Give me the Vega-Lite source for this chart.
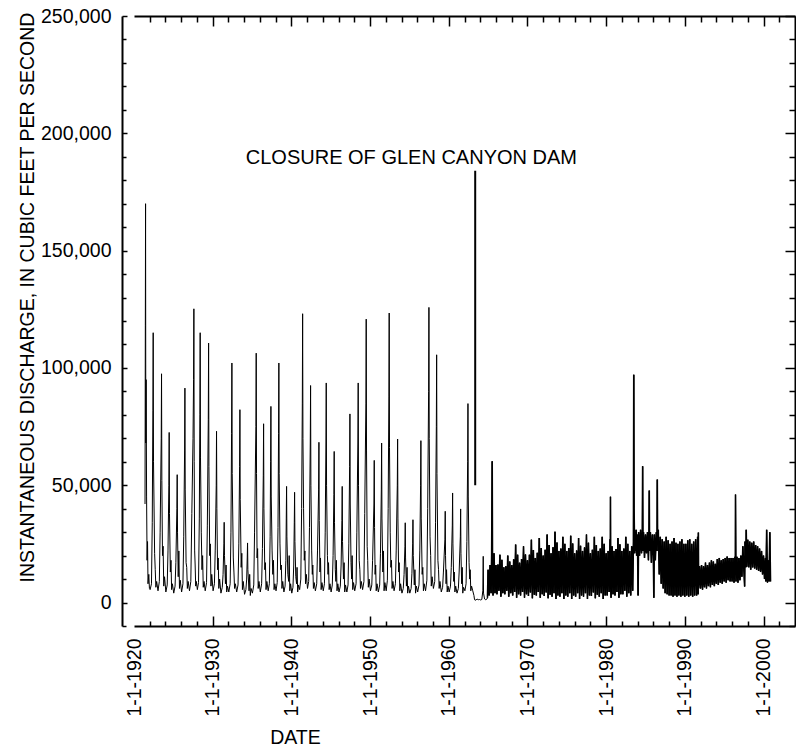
{
"$schema": "https://vega.github.io/schema/vega-lite/v6.json",
"width": 661, "height": 610,
"autosize": {"type": "none"},
"padding": {"left": 134, "top": 16, "right": 1, "bottom": 123},
"background": "white",
"config": {"view": {"stroke": null}, "font": "Liberation Sans",
 "axis": {"labelFont": "Liberation Sans", "titleFont": "Liberation Sans", "labelColor": "black", "titleColor": "black", "domainColor": "black", "tickColor": "black", "grid": false, "domainWidth": 2, "tickWidth": 1.5, "labelFontSize": 19.5, "titleFontSize": 19.5, "titleFontWeight": "normal", "labelBound": false, "labelOverlap": false, "labelFlush": false, "zindex": 1}},
"datasets": {
"note": [{"t": 1955.25, "q": 187000, "label": "CLOSURE OF GLEN CANYON DAM"}],
"lead": [{"t": 1963.36, "q": 50000, "q2": 184000}],
"flow": [
{"t":1921.40,"q":42000},{"t":1921.44,"q":118000},{"t":1921.47,"q":170000},{"t":1921.50,"q":68000},{"t":1921.54,"q":95000},{"t":1921.60,"q":45000},{"t":1921.66,"q":18000},{"t":1921.72,"q":26000},{"t":1921.78,"q":8000},{"t":1921.88,"q":12000},{"t":1921.96,"q":6000},
{"t":1922.05,"q":5500},{"t":1922.22,"q":8000},{"t":1922.32,"q":34000},{"t":1922.40,"q":82000},{"t":1922.44,"q":115000},{"t":1922.48,"q":60000},{"t":1922.62,"q":21000},{"t":1922.70,"q":14000},{"t":1922.78,"q":6500},{"t":1922.88,"q":9000},
{"t":1923.05,"q":5000},{"t":1923.22,"q":9000},{"t":1923.32,"q":30000},{"t":1923.46,"q":70000},{"t":1923.50,"q":97500},{"t":1923.54,"q":52000},{"t":1923.62,"q":20000},{"t":1923.70,"q":24000},{"t":1923.78,"q":7000},{"t":1923.88,"q":11000},
{"t":1924.05,"q":4500},{"t":1924.22,"q":7500},{"t":1924.32,"q":22000},{"t":1924.43,"q":50000},{"t":1924.47,"q":72500},{"t":1924.51,"q":38000},{"t":1924.62,"q":13000},{"t":1924.70,"q":18000},{"t":1924.78,"q":5500},{"t":1924.88,"q":8000},
{"t":1925.05,"q":4000},{"t":1925.22,"q":7000},{"t":1925.32,"q":17000},{"t":1925.45,"q":40000},{"t":1925.49,"q":54500},{"t":1925.53,"q":30000},{"t":1925.62,"q":11000},{"t":1925.70,"q":22000},{"t":1925.78,"q":6000},{"t":1925.88,"q":9500},
{"t":1926.05,"q":4500},{"t":1926.22,"q":8000},{"t":1926.32,"q":28000},{"t":1926.43,"q":65000},{"t":1926.47,"q":91400},{"t":1926.51,"q":48000},{"t":1926.62,"q":17000},{"t":1926.70,"q":15000},{"t":1926.78,"q":6000},{"t":1926.88,"q":9000},
{"t":1927.05,"q":5000},{"t":1927.22,"q":9000},{"t":1927.35,"q":38000},{"t":1927.50,"q":70000},{"t":1927.57,"q":95000},{"t":1927.61,"q":125200},{"t":1927.65,"q":60000},{"t":1927.71,"q":22000},{"t":1927.77,"q":16000},{"t":1927.84,"q":7000},{"t":1927.92,"q":9000},
{"t":1928.05,"q":5500},{"t":1928.20,"q":8500},{"t":1928.30,"q":36000},{"t":1928.37,"q":80000},{"t":1928.41,"q":115000},{"t":1928.45,"q":62000},{"t":1928.55,"q":30000},{"t":1928.64,"q":14000},{"t":1928.72,"q":20000},{"t":1928.80,"q":6500},{"t":1928.90,"q":9000},
{"t":1929.05,"q":5000},{"t":1929.22,"q":8500},{"t":1929.32,"q":33000},{"t":1929.44,"q":78000},{"t":1929.48,"q":110600},{"t":1929.52,"q":58000},{"t":1929.62,"q":20000},{"t":1929.70,"q":25000},{"t":1929.78,"q":7000},{"t":1929.88,"q":12000},
{"t":1930.05,"q":5000},{"t":1930.22,"q":8000},{"t":1930.32,"q":22000},{"t":1930.45,"q":50000},{"t":1930.49,"q":73000},{"t":1930.53,"q":40000},{"t":1930.62,"q":14000},{"t":1930.70,"q":19000},{"t":1930.78,"q":6000},{"t":1930.88,"q":10000},
{"t":1931.05,"q":4000},{"t":1931.22,"q":6500},{"t":1931.32,"q":12000},{"t":1931.42,"q":25000},{"t":1931.46,"q":34200},{"t":1931.50,"q":20000},{"t":1931.62,"q":8000},{"t":1931.70,"q":16000},{"t":1931.78,"q":4500},{"t":1931.88,"q":7000},
{"t":1932.05,"q":4500},{"t":1932.22,"q":8000},{"t":1932.32,"q":30000},{"t":1932.40,"q":72000},{"t":1932.44,"q":102100},{"t":1932.48,"q":55000},{"t":1932.62,"q":19000},{"t":1932.70,"q":13000},{"t":1932.78,"q":6000},{"t":1932.88,"q":8000},
{"t":1933.05,"q":4500},{"t":1933.22,"q":7500},{"t":1933.32,"q":25000},{"t":1933.42,"q":58000},{"t":1933.46,"q":82200},{"t":1933.50,"q":44000},{"t":1933.62,"q":15000},{"t":1933.70,"q":21000},{"t":1933.78,"q":5500},{"t":1933.88,"q":9000},
{"t":1934.05,"q":3500},{"t":1934.22,"q":5500},{"t":1934.32,"q":10000},{"t":1934.39,"q":19000},{"t":1934.43,"q":25400},{"t":1934.47,"q":14000},{"t":1934.62,"q":5000},{"t":1934.70,"q":12000},{"t":1934.78,"q":3000},{"t":1934.88,"q":6000},
{"t":1935.05,"q":4000},{"t":1935.22,"q":7500},{"t":1935.32,"q":30000},{"t":1935.49,"q":75000},{"t":1935.53,"q":106300},{"t":1935.57,"q":55000},{"t":1935.64,"q":19000},{"t":1935.71,"q":23000},{"t":1935.78,"q":6000},{"t":1935.88,"q":9000},
{"t":1936.05,"q":4500},{"t":1936.22,"q":8000},{"t":1936.32,"q":23000},{"t":1936.43,"q":54000},{"t":1936.47,"q":76200},{"t":1936.51,"q":40000},{"t":1936.62,"q":14000},{"t":1936.70,"q":17000},{"t":1936.78,"q":5500},{"t":1936.88,"q":9000},
{"t":1937.05,"q":5000},{"t":1937.20,"q":8000},{"t":1937.30,"q":28000},{"t":1937.36,"q":60000},{"t":1937.40,"q":83600},{"t":1937.44,"q":45000},{"t":1937.55,"q":22000},{"t":1937.64,"q":12000},{"t":1937.72,"q":18000},{"t":1937.80,"q":5500},{"t":1937.90,"q":8000},
{"t":1938.05,"q":5000},{"t":1938.20,"q":8500},{"t":1938.30,"q":32000},{"t":1938.37,"q":72000},{"t":1938.41,"q":102100},{"t":1938.45,"q":55000},{"t":1938.55,"q":25000},{"t":1938.64,"q":14000},{"t":1938.72,"q":16000},{"t":1938.80,"q":6000},{"t":1938.90,"q":9000},
{"t":1939.05,"q":4500},{"t":1939.20,"q":7000},{"t":1939.30,"q":18000},{"t":1939.35,"q":36000},{"t":1939.39,"q":49500},{"t":1939.43,"q":28000},{"t":1939.55,"q":12000},{"t":1939.66,"q":9000},{"t":1939.72,"q":20000},{"t":1939.80,"q":5000},{"t":1939.90,"q":8000},
{"t":1940.05,"q":4000},{"t":1940.20,"q":6500},{"t":1940.30,"q":16000},{"t":1940.37,"q":34000},{"t":1940.41,"q":47000},{"t":1940.45,"q":26000},{"t":1940.56,"q":11000},{"t":1940.66,"q":8000},{"t":1940.72,"q":15000},{"t":1940.80,"q":4500},{"t":1940.90,"q":7500},
{"t":1941.05,"q":5500},{"t":1941.20,"q":10000},{"t":1941.30,"q":40000},{"t":1941.39,"q":85000},{"t":1941.43,"q":123100},{"t":1941.47,"q":70000},{"t":1941.55,"q":40000},{"t":1941.64,"q":18000},{"t":1941.72,"q":22000},{"t":1941.80,"q":8000},{"t":1941.90,"q":12000},
{"t":1942.05,"q":6000},{"t":1942.20,"q":9000},{"t":1942.30,"q":32000},{"t":1942.40,"q":68000},{"t":1942.44,"q":92500},{"t":1942.48,"q":50000},{"t":1942.58,"q":22000},{"t":1942.66,"q":12000},{"t":1942.72,"q":16000},{"t":1942.80,"q":6000},{"t":1942.90,"q":8500},
{"t":1943.05,"q":5000},{"t":1943.22,"q":8000},{"t":1943.32,"q":22000},{"t":1943.46,"q":48000},{"t":1943.50,"q":68300},{"t":1943.54,"q":35000},{"t":1943.63,"q":13000},{"t":1943.70,"q":19000},{"t":1943.78,"q":5500},{"t":1943.88,"q":8500},
{"t":1944.05,"q":5000},{"t":1944.20,"q":8000},{"t":1944.30,"q":30000},{"t":1944.39,"q":68000},{"t":1944.43,"q":93600},{"t":1944.47,"q":50000},{"t":1944.58,"q":20000},{"t":1944.66,"q":12000},{"t":1944.72,"q":17000},{"t":1944.80,"q":5500},{"t":1944.90,"q":8000},
{"t":1945.05,"q":4500},{"t":1945.20,"q":7500},{"t":1945.30,"q":20000},{"t":1945.40,"q":46000},{"t":1945.44,"q":64400},{"t":1945.48,"q":34000},{"t":1945.58,"q":14000},{"t":1945.66,"q":9000},{"t":1945.72,"q":18000},{"t":1945.80,"q":5000},{"t":1945.90,"q":8000},
{"t":1946.05,"q":4500},{"t":1946.22,"q":7000},{"t":1946.32,"q":16000},{"t":1946.42,"q":35000},{"t":1946.46,"q":49500},{"t":1946.50,"q":26000},{"t":1946.62,"q":10000},{"t":1946.70,"q":17000},{"t":1946.78,"q":4500},{"t":1946.88,"q":7500},
{"t":1947.05,"q":4500},{"t":1947.20,"q":7500},{"t":1947.30,"q":25000},{"t":1947.40,"q":58000},{"t":1947.44,"q":80400},{"t":1947.48,"q":42000},{"t":1947.58,"q":17000},{"t":1947.66,"q":10000},{"t":1947.72,"q":20000},{"t":1947.80,"q":5500},{"t":1947.90,"q":8500},
{"t":1948.05,"q":5000},{"t":1948.22,"q":8000},{"t":1948.32,"q":30000},{"t":1948.45,"q":68000},{"t":1948.49,"q":93600},{"t":1948.53,"q":50000},{"t":1948.62,"q":18000},{"t":1948.70,"q":14000},{"t":1948.78,"q":6000},{"t":1948.88,"q":9000},
{"t":1949.05,"q":5500},{"t":1949.22,"q":9000},{"t":1949.32,"q":38000},{"t":1949.47,"q":85000},{"t":1949.51,"q":120800},{"t":1949.55,"q":65000},{"t":1949.63,"q":24000},{"t":1949.70,"q":18000},{"t":1949.78,"q":6500},{"t":1949.88,"q":10000},
{"t":1950.05,"q":5000},{"t":1950.22,"q":7500},{"t":1950.32,"q":18000},{"t":1950.49,"q":42000},{"t":1950.53,"q":60600},{"t":1950.57,"q":32000},{"t":1950.64,"q":12000},{"t":1950.71,"q":16000},{"t":1950.78,"q":5000},{"t":1950.88,"q":8000},
{"t":1951.05,"q":4500},{"t":1951.22,"q":7500},{"t":1951.32,"q":21000},{"t":1951.43,"q":48000},{"t":1951.47,"q":68000},{"t":1951.51,"q":36000},{"t":1951.62,"q":13000},{"t":1951.70,"q":22000},{"t":1951.78,"q":5000},{"t":1951.88,"q":8500},
{"t":1952.05,"q":5000},{"t":1952.20,"q":9500},{"t":1952.30,"q":40000},{"t":1952.39,"q":88000},{"t":1952.43,"q":123400},{"t":1952.47,"q":66000},{"t":1952.56,"q":30000},{"t":1952.64,"q":15000},{"t":1952.72,"q":18000},{"t":1952.80,"q":6000},{"t":1952.90,"q":9000},
{"t":1953.05,"q":5000},{"t":1953.22,"q":8000},{"t":1953.32,"q":22000},{"t":1953.46,"q":50000},{"t":1953.50,"q":69700},{"t":1953.54,"q":36000},{"t":1953.63,"q":13000},{"t":1953.70,"q":17000},{"t":1953.78,"q":5000},{"t":1953.88,"q":8000},
{"t":1954.05,"q":4000},{"t":1954.22,"q":6000},{"t":1954.32,"q":12000},{"t":1954.43,"q":24000},{"t":1954.47,"q":34000},{"t":1954.51,"q":19000},{"t":1954.62,"q":7000},{"t":1954.70,"q":15000},{"t":1954.78,"q":4000},{"t":1954.88,"q":7000},
{"t":1955.05,"q":4000},{"t":1955.22,"q":6000},{"t":1955.32,"q":12500},{"t":1955.41,"q":25000},{"t":1955.45,"q":35300},{"t":1955.49,"q":20000},{"t":1955.62,"q":7500},{"t":1955.70,"q":14000},{"t":1955.78,"q":4000},{"t":1955.88,"q":7000},
{"t":1956.05,"q":4500},{"t":1956.22,"q":7500},{"t":1956.32,"q":22000},{"t":1956.42,"q":50000},{"t":1956.46,"q":69000},{"t":1956.50,"q":36000},{"t":1956.62,"q":12000},{"t":1956.70,"q":15000},{"t":1956.78,"q":5000},{"t":1956.88,"q":8000},
{"t":1957.05,"q":5000},{"t":1957.22,"q":9500},{"t":1957.32,"q":40000},{"t":1957.44,"q":90000},{"t":1957.48,"q":125800},{"t":1957.52,"q":70000},{"t":1957.62,"q":28000},{"t":1957.70,"q":20000},{"t":1957.78,"q":7000},{"t":1957.88,"q":11000},
{"t":1958.05,"q":6000},{"t":1958.22,"q":9000},{"t":1958.32,"q":34000},{"t":1958.42,"q":75000},{"t":1958.46,"q":105600},{"t":1958.50,"q":55000},{"t":1958.62,"q":18000},{"t":1958.70,"q":14000},{"t":1958.78,"q":6000},{"t":1958.88,"q":9000},
{"t":1959.05,"q":4500},{"t":1959.22,"q":6500},{"t":1959.32,"q":13000},{"t":1959.51,"q":27000},{"t":1959.55,"q":38900},{"t":1959.59,"q":20000},{"t":1959.66,"q":8000},{"t":1959.72,"q":14000},{"t":1959.80,"q":4500},{"t":1959.90,"q":7000},
{"t":1960.05,"q":4500},{"t":1960.22,"q":7000},{"t":1960.32,"q":15000},{"t":1960.45,"q":33000},{"t":1960.49,"q":46700},{"t":1960.53,"q":25000},{"t":1960.63,"q":9000},{"t":1960.70,"q":13000},{"t":1960.78,"q":4500},{"t":1960.88,"q":7000},
{"t":1961.05,"q":4000},{"t":1961.22,"q":6000},{"t":1961.32,"q":13000},{"t":1961.47,"q":28000},{"t":1961.51,"q":39900},{"t":1961.55,"q":21000},{"t":1961.64,"q":8000},{"t":1961.71,"q":15000},{"t":1961.78,"q":4000},{"t":1961.88,"q":6500},
{"t":1962.05,"q":5000},{"t":1962.20,"q":8000},{"t":1962.30,"q":26000},{"t":1962.40,"q":60000},{"t":1962.44,"q":84800},{"t":1962.48,"q":45000},{"t":1962.58,"q":17000},{"t":1962.66,"q":10000},{"t":1962.72,"q":14000},{"t":1962.80,"q":5000},{"t":1962.90,"q":7000},
{"t":1963.05,"q":5000},{"t":1963.20,"q":3000},{"t":1963.28,"q":1200},{"t":1963.45,"q":1000},{"t":1963.60,"q":1500},{"t":1963.75,"q":1200},{"t":1963.90,"q":1300},{"t":1964.05,"q":1100},{"t":1964.20,"q":1300},{"t":1964.33,"q":5000},{"t":1964.38,"q":19700},{"t":1964.42,"q":4000},{"t":1964.55,"q":1500},{"t":1964.70,"q":1200},{"t":1964.85,"q":1500},{"t":1964.92,"q":2000},
{"t":1965.000,"q":14000},{"t":1965.125,"q":3000},{"t":1965.250,"q":16000},{"t":1965.375,"q":4000},{"t":1965.450,"q":20000},{"t":1965.520,"q":60200},{"t":1965.560,"q":15000},{"t":1965.625,"q":3000},{"t":1965.750,"q":21000},{"t":1965.875,"q":4000},
{"t":1966.000,"q":16000},{"t":1966.125,"q":3500},{"t":1966.250,"q":16200},{"t":1966.375,"q":5000},{"t":1966.500,"q":20400},{"t":1966.625,"q":2500},{"t":1966.750,"q":18200},{"t":1966.875,"q":4000},
{"t":1967.000,"q":15000},{"t":1967.125,"q":3500},{"t":1967.250,"q":15500},{"t":1967.375,"q":5000},{"t":1967.500,"q":20000},{"t":1967.625,"q":2500},{"t":1967.750,"q":17500},{"t":1967.875,"q":4000},
{"t":1968.000,"q":16000},{"t":1968.125,"q":3000},{"t":1968.250,"q":18400},{"t":1968.375,"q":4500},{"t":1968.500,"q":24700},{"t":1968.625,"q":2000},{"t":1968.750,"q":20400},{"t":1968.875,"q":3500},
{"t":1969.000,"q":17000},{"t":1969.125,"q":3000},{"t":1969.250,"q":18500},{"t":1969.375,"q":4500},{"t":1969.500,"q":24000},{"t":1969.625,"q":2000},{"t":1969.750,"q":20500},{"t":1969.875,"q":3500},
{"t":1970.000,"q":18000},{"t":1970.125,"q":2800},{"t":1970.250,"q":20400},{"t":1970.375,"q":4300},{"t":1970.500,"q":26800},{"t":1970.625,"q":1800},{"t":1970.750,"q":22400},{"t":1970.875,"q":3300},
{"t":1971.000,"q":19000},{"t":1971.125,"q":3000},{"t":1971.250,"q":21200},{"t":1971.375,"q":4500},{"t":1971.500,"q":27500},{"t":1971.625,"q":2000},{"t":1971.750,"q":23200},{"t":1971.875,"q":3500},
{"t":1972.000,"q":20000},{"t":1972.125,"q":2800},{"t":1972.250,"q":22500},{"t":1972.375,"q":4300},{"t":1972.500,"q":29000},{"t":1972.625,"q":1800},{"t":1972.750,"q":24500},{"t":1972.875,"q":3300},
{"t":1973.000,"q":21000},{"t":1973.125,"q":2500},{"t":1973.250,"q":23600},{"t":1973.375,"q":4000},{"t":1973.500,"q":30200},{"t":1973.625,"q":1500},{"t":1973.750,"q":25600},{"t":1973.875,"q":3000},
{"t":1974.000,"q":22000},{"t":1974.125,"q":2500},{"t":1974.250,"q":23000},{"t":1974.375,"q":4000},{"t":1974.500,"q":28000},{"t":1974.625,"q":1500},{"t":1974.750,"q":25000},{"t":1974.875,"q":3000},
{"t":1975.000,"q":22000},{"t":1975.125,"q":2500},{"t":1975.250,"q":23200},{"t":1975.375,"q":4000},{"t":1975.500,"q":28500},{"t":1975.625,"q":1500},{"t":1975.750,"q":25200},{"t":1975.875,"q":3000},
{"t":1976.000,"q":21000},{"t":1976.125,"q":2500},{"t":1976.250,"q":22200},{"t":1976.375,"q":4000},{"t":1976.500,"q":27500},{"t":1976.625,"q":1500},{"t":1976.750,"q":24200},{"t":1976.875,"q":3000},
{"t":1977.000,"q":22000},{"t":1977.125,"q":2500},{"t":1977.250,"q":23500},{"t":1977.375,"q":4000},{"t":1977.500,"q":29000},{"t":1977.625,"q":1500},{"t":1977.750,"q":25500},{"t":1977.875,"q":3000},
{"t":1978.000,"q":21000},{"t":1978.125,"q":2800},{"t":1978.250,"q":22500},{"t":1978.375,"q":4300},{"t":1978.500,"q":28000},{"t":1978.625,"q":1800},{"t":1978.750,"q":24500},{"t":1978.875,"q":3300},
{"t":1979.000,"q":22000},{"t":1979.125,"q":2500},{"t":1979.250,"q":23000},{"t":1979.375,"q":4000},{"t":1979.500,"q":28000},{"t":1979.625,"q":1500},{"t":1979.750,"q":25000},{"t":1979.875,"q":3000},
{"t":1980.000,"q":21000},{"t":1980.125,"q":3000},{"t":1980.250,"q":22000},{"t":1980.375,"q":4500},{"t":1980.500,"q":27000},{"t":1980.530,"q":10000},{"t":1980.550,"q":45100},{"t":1980.580,"q":8000},{"t":1980.625,"q":2000},{"t":1980.750,"q":24000},{"t":1980.875,"q":3500},
{"t":1981.000,"q":22000},{"t":1981.125,"q":3000},{"t":1981.250,"q":22800},{"t":1981.375,"q":4500},{"t":1981.500,"q":27500},{"t":1981.625,"q":2000},{"t":1981.750,"q":24800},{"t":1981.875,"q":3500},
{"t":1982.000,"q":22000},{"t":1982.125,"q":3500},{"t":1982.250,"q":23000},{"t":1982.375,"q":5000},{"t":1982.500,"q":28000},{"t":1982.625,"q":2500},{"t":1982.750,"q":25000},{"t":1982.875,"q":4000},
{"t":1983.000,"q":22000},{"t":1983.125,"q":3000},{"t":1983.250,"q":24000},{"t":1983.375,"q":5000},{"t":1983.470,"q":26000},{"t":1983.510,"q":97100},{"t":1983.550,"q":40000},{"t":1983.625,"q":21000},{"t":1983.690,"q":30000},{"t":1983.750,"q":22000},{"t":1983.810,"q":31000},{"t":1983.875,"q":20000},{"t":1983.940,"q":29000},
{"t":1984.000,"q":22000},{"t":1984.060,"q":3000},{"t":1984.125,"q":30000},{"t":1984.250,"q":20000},{"t":1984.375,"q":31000},{"t":1984.500,"q":21000},{"t":1984.600,"q":30000},{"t":1984.640,"q":58100},{"t":1984.680,"q":22000},{"t":1984.750,"q":30000},{"t":1984.875,"q":19000},
{"t":1985.000,"q":29000},{"t":1985.125,"q":21000},{"t":1985.250,"q":30000},{"t":1985.375,"q":18000},{"t":1985.440,"q":28000},{"t":1985.480,"q":47700},{"t":1985.520,"q":22000},{"t":1985.625,"q":30000},{"t":1985.750,"q":17000},{"t":1985.875,"q":29000},
{"t":1986.000,"q":20000},{"t":1986.060,"q":2000},{"t":1986.125,"q":29000},{"t":1986.250,"q":18000},{"t":1986.375,"q":30000},{"t":1986.460,"q":22000},{"t":1986.500,"q":52400},{"t":1986.540,"q":25000},{"t":1986.625,"q":31000},{"t":1986.750,"q":12000},{"t":1986.875,"q":28000},
{"t":1987.000,"q":8000},{"t":1987.125,"q":27000},{"t":1987.250,"q":6000},{"t":1987.375,"q":26000},{"t":1987.500,"q":4000},{"t":1987.625,"q":28000},{"t":1987.750,"q":3500},{"t":1987.875,"q":26500},
{"t":1988.000,"q":3000},{"t":1988.125,"q":25000},{"t":1988.250,"q":3000},{"t":1988.375,"q":26000},{"t":1988.500,"q":2500},{"t":1988.625,"q":27500},{"t":1988.750,"q":3000},{"t":1988.875,"q":25500},
{"t":1989.000,"q":2500},{"t":1989.125,"q":25000},{"t":1989.250,"q":3000},{"t":1989.375,"q":26000},{"t":1989.500,"q":2500},{"t":1989.625,"q":27000},{"t":1989.750,"q":3000},{"t":1989.875,"q":25000},
{"t":1990.000,"q":2500},{"t":1990.125,"q":25000},{"t":1990.250,"q":3000},{"t":1990.375,"q":26500},{"t":1990.500,"q":2500},{"t":1990.625,"q":27000},{"t":1990.750,"q":3000},{"t":1990.875,"q":25000},
{"t":1991.000,"q":2500},{"t":1991.125,"q":26000},{"t":1991.250,"q":3000},{"t":1991.375,"q":27000},{"t":1991.500,"q":3000},{"t":1991.625,"q":28000},{"t":1991.690,"q":3500},{"t":1991.720,"q":29800},{"t":1991.750,"q":6000},{"t":1991.875,"q":15500},
{"t":1992.000,"q":6000},{"t":1992.125,"q":16000},{"t":1992.250,"q":5500},{"t":1992.375,"q":15500},{"t":1992.500,"q":6500},{"t":1992.625,"q":17000},{"t":1992.750,"q":6000},{"t":1992.875,"q":16000},
{"t":1993.000,"q":7000},{"t":1993.125,"q":17000},{"t":1993.250,"q":6500},{"t":1993.375,"q":18000},{"t":1993.500,"q":7500},{"t":1993.625,"q":17500},{"t":1993.750,"q":7000},{"t":1993.875,"q":16500},
{"t":1994.000,"q":8000},{"t":1994.125,"q":18500},{"t":1994.250,"q":7500},{"t":1994.375,"q":19000},{"t":1994.500,"q":8500},{"t":1994.625,"q":18000},{"t":1994.750,"q":8000},{"t":1994.875,"q":18500},
{"t":1995.000,"q":9000},{"t":1995.125,"q":19000},{"t":1995.250,"q":8500},{"t":1995.375,"q":19600},{"t":1995.500,"q":9500},{"t":1995.625,"q":19000},{"t":1995.750,"q":9000},{"t":1995.875,"q":19000},
{"t":1996.000,"q":9000},{"t":1996.125,"q":19000},{"t":1996.250,"q":8500},{"t":1996.375,"q":19500},{"t":1996.420,"q":12000},{"t":1996.440,"q":46000},{"t":1996.480,"q":20000},{"t":1996.500,"q":9000},{"t":1996.625,"q":19500},{"t":1996.750,"q":8500},{"t":1996.875,"q":19000},
{"t":1997.000,"q":9500},{"t":1997.125,"q":20000},{"t":1997.250,"q":11000},{"t":1997.375,"q":24000},{"t":1997.500,"q":14000},{"t":1997.600,"q":6800},{"t":1997.650,"q":26000},{"t":1997.750,"q":15000},{"t":1997.800,"q":31000},{"t":1997.875,"q":15300},
{"t":1998.000,"q":26800},{"t":1998.125,"q":15000},{"t":1998.250,"q":26000},{"t":1998.375,"q":14000},{"t":1998.500,"q":25500},{"t":1998.625,"q":15000},{"t":1998.750,"q":26000},{"t":1998.875,"q":14500},
{"t":1999.000,"q":24500},{"t":1999.125,"q":14000},{"t":1999.250,"q":24000},{"t":1999.375,"q":13500},{"t":1999.500,"q":23000},{"t":1999.625,"q":13000},{"t":1999.750,"q":22000},{"t":1999.875,"q":12000},
{"t":2000.000,"q":20000},{"t":2000.125,"q":10000},{"t":2000.250,"q":19000},{"t":2000.300,"q":9000},{"t":2000.400,"q":31000},{"t":2000.500,"q":8500},{"t":2000.600,"q":18000},{"t":2000.700,"q":9000},{"t":2000.800,"q":30000},{"t":2000.890,"q":9000}
]},
"layer": [
 {"data": {"name": "flow"},
  "mark": {"type": "line", "color": "black", "strokeWidth": 1},
  "encoding": {
   "x": {"field": "t", "type": "quantitative", "scale": {"domain": [1920, 2004], "nice": false, "zero": false},
    "axis": {"orient": "bottom", "title": "DATE", "values": [1920,1922,1924,1926,1928,1930,1932,1934,1936,1938,1940,1942,1944,1946,1948,1950,1952,1954,1956,1958,1960,1962,1964,1966,1968,1970,1972,1974,1976,1978,1980,1982,1984,1986,1988,1990,1992,1994,1996,1998,2000,2002],
     "labelExpr": "datum.value % 10 === 0 ? '1-1-' + datum.value : ''",
     "labelAngle": -90, "labelAlign": "right", "labelBaseline": "middle", "labelPadding": 22,
     "tickSize": {"condition": {"test": "datum.value % 10 === 0", "value": -10}, "value": -5},
     "tickOpacity": {"condition": {"test": "datum.value < 1921", "value": 0}, "value": 1},
     "titleX": 161, "titleY": 117, "titleBaseline": "alphabetic", "titleAlign": "center"}},
   "y": {"field": "q", "type": "quantitative", "scale": {"domain": [-10000, 250000], "nice": false, "zero": false},
    "axis": {"orient": "left", "offset": 12, "title": "INSTANTANEOUS DISCHARGE, IN CUBIC FEET PER SECOND",
     "values": [-10000,0,10000,20000,30000,40000,50000,60000,70000,80000,90000,100000,110000,120000,130000,140000,150000,160000,170000,180000,190000,200000,210000,220000,230000,240000,250000],
     "labelExpr": "datum.value >= 0 && datum.value % 50000 === 0 ? format(datum.value, ',') : ''",
     "labelPadding": 16,
     "tickSize": {"condition": {"test": "datum.value % 50000 === 0", "value": -5}, "value": -4},
     "titleX": -89, "titleY": 281, "titleBaseline": "alphabetic", "titleAlign": "center", "titleAngle": -90}}
  }},
 {"data": {"name": "flow"},
  "transform": [{"filter": "datum.t >= 1964.9"}],
  "mark": {"type": "line", "color": "black", "strokeWidth": 1.6},
  "encoding": {
   "x": {"field": "t", "type": "quantitative", "axis": null},
   "y": {"field": "q", "type": "quantitative", "axis": null}
  }},
 {"data": {"name": "note"},
  "mark": {"type": "point", "opacity": 0},
  "encoding": {
   "x": {"field": "t", "type": "quantitative", "scale": {"domain": [1920, 2004], "nice": false, "zero": false},
    "axis": {"orient": "top", "title": null, "labels": false, "values": [1920,1922,1924,1926,1928,1930,1932,1934,1936,1938,1940,1942,1944,1946,1948,1950,1952,1954,1956,1958,1960,1962,1964,1966,1968,1970,1972,1974,1976,1978,1980,1982,1984,1986,1988,1990,1992,1994,1996,1998,2000,2002],
     "tickSize": {"condition": {"test": "datum.value % 10 === 0", "value": -10}, "value": -6},
     "tickOpacity": {"condition": {"test": "datum.value < 1921", "value": 0}, "value": 1}}},
   "y": {"field": "q", "type": "quantitative", "scale": {"domain": [-10000, 250000], "nice": false, "zero": false},
    "axis": {"orient": "right", "title": null, "labels": false,
     "values": [-10000,0,10000,20000,30000,40000,50000,60000,70000,80000,90000,100000,110000,120000,130000,140000,150000,160000,170000,180000,190000,200000,210000,220000,230000,240000,250000],
     "tickSize": {"condition": {"test": "datum.value % 50000 === 0", "value": -10}, "value": -6}}}
  }},
 {"data": {"name": "lead"},
  "mark": {"type": "rule", "color": "black", "strokeWidth": 2},
  "encoding": {
   "x": {"field": "t", "type": "quantitative", "axis": null},
   "y": {"field": "q", "type": "quantitative", "axis": null},
   "y2": {"field": "q2"}
  }},
 {"data": {"name": "note"},
  "mark": {"type": "text", "color": "black", "font": "Liberation Sans", "fontSize": 20, "align": "center", "baseline": "alphabetic"},
  "encoding": {
   "x": {"field": "t", "type": "quantitative", "axis": null},
   "y": {"field": "q", "type": "quantitative", "axis": null},
   "text": {"field": "label"}
  }}
],
"resolve": {"axis": {"x": "independent", "y": "independent"}}
}
